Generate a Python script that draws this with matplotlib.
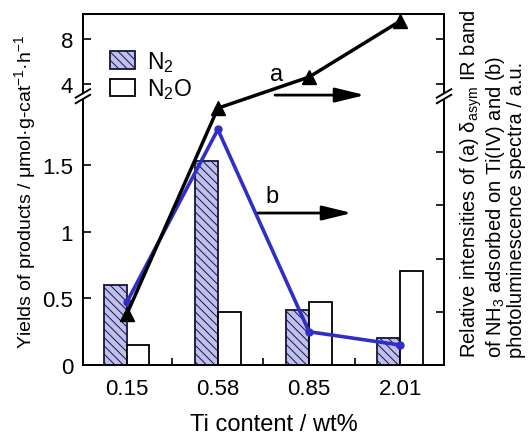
import numpy as np
import matplotlib
matplotlib.use("Agg")
import matplotlib.pyplot as plt
from matplotlib.patches import Polygon

plt.rcParams["font.family"] = ["Liberation Sans", "DejaVu Sans"]
plt.rcParams["mathtext.fontset"] = "custom"
plt.rcParams["mathtext.rm"] = "Liberation Sans"
plt.rcParams["mathtext.it"] = "Liberation Sans:italic"
plt.rcParams["hatch.linewidth"] = 0.7

# ---- data ----
ti_content = ["0.15", "0.58", "0.85", "2.01"]
n2_yield = [0.60, 1.53, 0.41, 0.20]
n2o_yield = [0.15, 0.40, 0.47, 0.71]
ir_band_a = [0.38, 1.93, 4.62, 9.6]      # relative NH3 delta_asym IR intensity
pl_b = [0.47, 1.77, 0.25, 0.15]          # relative photoluminescence intensity

left_ticks = [0, 0.5, 1, 1.5, 4, 8]
left_ticklabels = ["0", "0.5", "1", "1.5", "4", "8"]
right_ticks = [0.4, 0.8, 1.2, 1.6, 4, 8]

# ---- broken y scale: linear below the break, compressed above it ----
BREAK_LO, BREAK_HI = 2.02, 2.93
UPPER_SLOPE = 11.25 / 133.0
GAP = 0.001
Y_TOP = 10.22


def fwd(y):
    y = np.asarray(y, dtype=float)
    return np.where(
        y <= BREAK_LO, y,
        np.where(y >= BREAK_HI,
                 BREAK_LO + GAP + (y - BREAK_HI) * UPPER_SLOPE,
                 BREAK_LO + (y - BREAK_LO) / (BREAK_HI - BREAK_LO) * GAP))


def inv(f):
    f = np.asarray(f, dtype=float)
    return np.where(
        f <= BREAK_LO, f,
        np.where(f >= BREAK_LO + GAP,
                 BREAK_HI + (f - BREAK_LO - GAP) / UPPER_SLOPE,
                 BREAK_LO + (f - BREAK_LO) / GAP * (BREAK_HI - BREAK_LO)))


fig = plt.figure(figsize=(5.28, 4.35), dpi=100)
ax = fig.add_axes([0.157, 0.1586, 0.684, 0.8069])
ax.set_yscale("function", functions=(fwd, inv))
ax.set_ylim(0, Y_TOP)
ax.set_xlim(-0.48, 3.48)

x = np.arange(len(ti_content))
w = 0.25
b1 = ax.bar(x - w / 2, n2_yield, w, facecolor="#c0c0f0", edgecolor="#15153a",
            hatch="\\\\\\\\", linewidth=1.3, zorder=2)
b2 = ax.bar(x + w / 2, n2o_yield, w, facecolor="white", edgecolor="black",
            linewidth=1.3, zorder=2)

ax.plot(x, pl_b, color="#2f2fc8", lw=2.6, marker="o", ms=5, zorder=3)
ax.plot(x, ir_band_a, color="black", lw=2.5, marker="^", ms=10, zorder=4)

# ---- axes styling ----
for s in ax.spines.values():
    s.set_linewidth(1.4)
ax.set_yticks(left_ticks)
ax.set_yticklabels(left_ticklabels)
ax.yaxis.set_minor_locator(matplotlib.ticker.NullLocator())
ax.tick_params(axis="y", direction="in", length=6, width=1.2, labelsize=16, pad=7)
ax.set_xticks(x)
ax.set_xticklabels(ti_content)
ax.tick_params(axis="x", which="major", length=0, labelsize=16, pad=9)
ax.set_xticks([0.5, 1.5, 2.5], minor=True)
ax.tick_params(axis="x", which="minor", direction="in", length=5, width=1.2)

ax2 = ax.twinx()
ax2.set_yscale("function", functions=(fwd, inv))
ax2.set_ylim(0, Y_TOP)
ax2.set_yticks(right_ticks)
ax2.yaxis.set_minor_locator(matplotlib.ticker.NullLocator())
ax2.tick_params(axis="y", direction="in", length=6, width=1.2, labelright=False)
for s in ax2.spines.values():
    s.set_linewidth(1.4)

# ---- break marks on both spines ----
f0, f1 = fwd(0.0), fwd(Y_TOP)
yb = float((fwd(BREAK_LO) - f0) / (f1 - f0))
dx, dy, off = 0.020, 0.012, 0.008
for xs in (0.0, 1.0):
    gap = Polygon([(xs - dx, yb - dy - off), (xs + dx, yb + dy - off),
                   (xs + dx, yb + dy + off), (xs - dx, yb - dy + off)],
                  closed=True, transform=ax.transAxes, facecolor="white",
                  edgecolor="none", clip_on=False, zorder=10)
    ax2.add_patch(gap)
    for o in (-off, off):
        ax2.plot([xs - dx, xs + dx], [yb - dy + o, yb + dy + o],
                 transform=ax.transAxes, color="black", lw=1.4,
                 clip_on=False, zorder=11)

# ---- legend ----
ax2.legend([b1, b2], [r"$\mathregular{N_2}$", r"$\mathregular{N_2O}$"],
           loc="upper left", bbox_to_anchor=(0.075, 0.90), frameon=False,
           fontsize=16.5, handlelength=1.1, handleheight=0.8, handletextpad=0.5,
           labelspacing=0.1, borderpad=0, borderaxespad=0)

# ---- curve labels with arrows ----
arrow_style = dict(arrowstyle="-|>,head_length=0.9,head_width=0.22",
                   color="black", lw=2, mutation_scale=20, shrinkA=0, shrinkB=0)
ax2.text(0.535, 0.829, "a", transform=ax.transAxes, fontsize=17,
         ha="center", va="center")
ax2.annotate("", xy=(0.781, 0.769), xytext=(0.532, 0.769),
             xycoords=ax.transAxes, textcoords=ax.transAxes,
             arrowprops=arrow_style)
ax2.text(0.524, 0.481, "b", transform=ax.transAxes, fontsize=17,
         ha="center", va="center")
ax2.annotate("", xy=(0.745, 0.433), xytext=(0.485, 0.433),
             xycoords=ax.transAxes, textcoords=ax.transAxes,
             arrowprops=arrow_style)

# ---- axis titles ----
fig.text(0.519, 0.009, "Ti content / wt%", fontsize=17, ha="center",
         va="baseline")
fig.text(0.047, 0.559,
         r"Yields of products / μmol·g-cat$^{\mathregular{-1}}$·h$^{\mathregular{-1}}$",
         fontsize=14, rotation=90, ha="center", va="center")
fig.text(0.932, 0.177,
         "Relative intensities of (a) $\\mathregular{δ_{asym}}$ IR band\n"
         "of NH$_\\mathregular{3}$ adsorbed on Ti(IV) and (b)\n"
         "photoluminescence spectra / a.u.",
         fontsize=14.5, rotation=90, ha="center", va="bottom",
         multialignment="left", linespacing=1.0)

fig.savefig("out.png", dpi=100)
